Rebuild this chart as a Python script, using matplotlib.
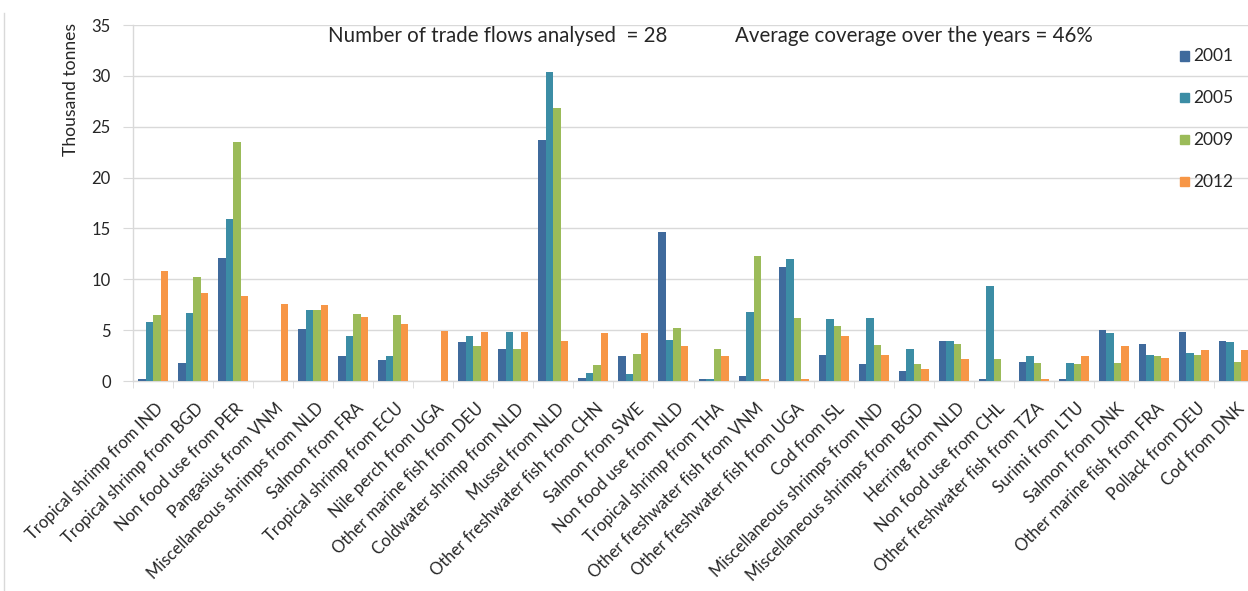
import matplotlib
matplotlib.use("Agg")
import matplotlib.pyplot as plt
import matplotlib.transforms as mtransforms
from matplotlib.lines import Line2D
import numpy as np

plt.rcParams['font.family'] = ['Lato', 'DejaVu Sans']

categories = [
    "Tropical shrimp from IND", "Tropical shrimp from BGD", "Non food use from PER",
    "Pangasius from VNM", "Miscellaneous shrimps from NLD", "Salmon from FRA",
    "Tropical shrimp from ECU", "Nile perch from UGA", "Other marine fish from DEU",
    "Coldwater shrimp from NLD", "Mussel from NLD", "Other freshwater fish from CHN",
    "Salmon from SWE", "Non food use from NLD", "Tropical shrimp from THA",
    "Other freshwater fish from VNM", "Other freshwater fish from UGA", "Cod from ISL",
    "Miscellaneous shrimps from IND", "Miscellaneous shrimps from BGD", "Herring from NLD",
    "Non food use from CHL", "Other freshwater fish from TZA", "Surimi from LTU",
    "Salmon from DNK", "Other marine fish from FRA", "Pollack from DEU", "Cod from DNK",
]

years = ["2001", "2005", "2009", "2012"]

v2001 = [0.15, 1.8, 12.1, 0.0, 5.08, 2.42, 2.03, 0.0, 3.8, 3.18, 23.73, 0.26, 2.42, 14.65,
         0.15, 0.52, 11.24, 2.52, 1.64, 1.01, 3.93, 0.15, 1.9, 0.15, 5.05, 3.67, 4.82, 3.93]
v2005 = [5.8, 6.7, 15.9, 0.0, 6.95, 4.42, 2.42, 0.0, 4.42, 4.82, 30.4, 0.75, 0.65, 4.06,
         0.15, 6.82, 12.0, 6.07, 6.19, 3.18, 3.93, 9.34, 2.42, 1.77, 4.69, 2.52, 2.78, 3.8]
v2009 = [6.45, 10.2, 23.5, 0.0, 6.95, 6.58, 6.45, 0.0, 3.4, 3.18, 26.87, 1.54, 2.65, 5.18,
         3.18, 12.26, 6.19, 5.44, 3.54, 1.64, 3.67, 2.16, 1.77, 1.64, 1.77, 2.42, 2.52, 1.9]
v2012 = [10.85, 8.7, 8.35, 7.55, 7.47, 6.32, 5.57, 4.92, 4.82, 4.82, 3.93, 4.69, 4.69, 3.41,
         2.42, 0.15, 0.15, 4.42, 2.52, 1.15, 2.16, 0.0, 0.15, 2.42, 3.41, 2.29, 3.05, 3.05]

series = [v2001, v2005, v2009, v2012]
colors = ["#3F6A9C", "#3C8DA5", "#9BBB59", "#F79646"]

W, H = 1248, 591
fig = plt.figure(figsize=(W / 100, H / 100), dpi=100)
fig.patch.set_facecolor("white")

# plot area in pixels: x 133..1254, y 25..381
ax = fig.add_axes([133 / W, (H - 381) / H, 1121 / W, 356 / H])

x = np.arange(len(categories))
bw = 0.1875
offsets = (np.arange(4) - 1.5) * bw
for vals, off, col, yr in zip(series, offsets, colors, years):
    ax.bar(x + off, vals, width=bw, color=col, label=yr, linewidth=0, zorder=3)

ax.set_xlim(-0.5, len(categories) - 0.5)
ax.set_ylim(0, 35)
ax.set_yticks(np.arange(0, 36, 5))
ax.grid(axis="y", color="#D9D9D9", linewidth=1.0, zorder=0)
ax.set_axisbelow(True)

for side in ["top", "right"]:
    ax.spines[side].set_visible(False)
for side in ["left", "bottom"]:
    ax.spines[side].set_color("#D9D9D9")
    ax.spines[side].set_linewidth(1.0)

ax.tick_params(axis="y", length=7, color="#D9D9D9", labelsize=12,
               labelcolor="#262626", pad=9)

# category labels at centres, boundary tick marks as minor ticks
ax.set_xticks(x)
ax.set_xticklabels(categories, rotation=45, ha="right", va="center",
                   rotation_mode="anchor", fontsize=12.0, color="#262626")
ax.tick_params(axis="x", which="major", length=0, pad=18)
ax.set_xticks(np.arange(-0.5, len(categories), 1.0), minor=True)
ax.tick_params(axis="x", which="minor", length=5, color="#D9D9D9")
shift = mtransforms.ScaledTranslation(8 / 100, 0, fig.dpi_scale_trans)
for lab in ax.get_xticklabels():
    lab.set_transform(lab.get_transform() + shift)

fig.text(71 / W, 1 - 23 / H, "Thousand tonnes", rotation=90, ha="center",
         va="top", fontsize=12.6, color="#262626")

fig.text(328 / W, 1 - 36 / H, "Number of trade flows analysed  = 28",
         ha="left", va="center", fontsize=14.8, color="#262626")
fig.text(735 / W, 1 - 36 / H, "Average coverage over the years = 46%",
         ha="left", va="center", fontsize=14.8, color="#262626")

# legend entries stacked down the right side
leg_y = [56, 98, 140, 182]
for yr, col, yp in zip(years, colors, leg_y):
    fig.patches.append(plt.Rectangle((1180 / W, 1 - (yp + 4.5) / H), 9 / W, 9 / H,
                                     transform=fig.transFigure, color=col,
                                     figure=fig))
    fig.text(1193 / W, 1 - yp / H, yr, ha="left", va="center", fontsize=12.5,
             color="#262626")

# chart-area border on the left edge
fig.add_artist(Line2D([4 / W, 4 / W], [0, 1 - 13 / H], transform=fig.transFigure,
                      color="#D9D9D9", linewidth=1.0))

fig.savefig("out.png", dpi=100, facecolor="white")
